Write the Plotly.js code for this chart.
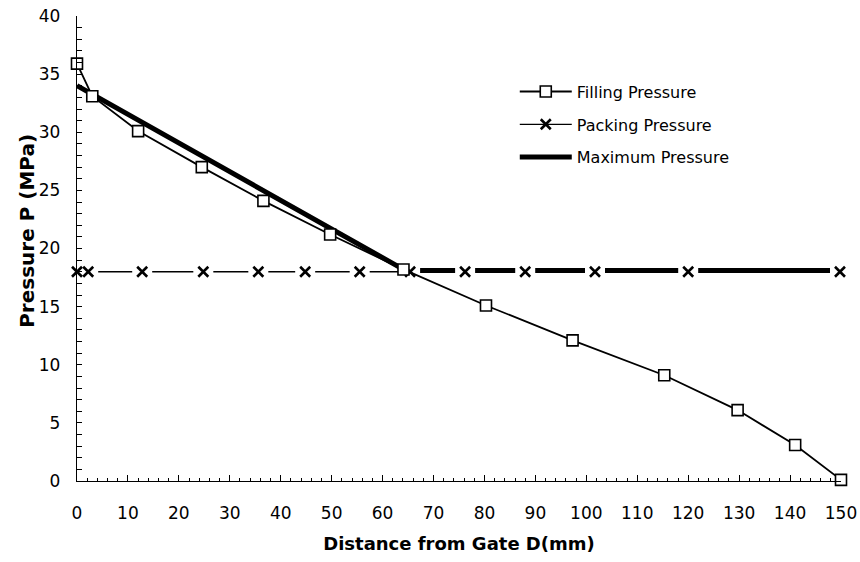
<!DOCTYPE html>
<html>
<head>
<meta charset="utf-8">
<script src="https://cdn.plot.ly/plotly-3.0.1.min.js"></script>
<style>html,body{margin:0;padding:0;background:#fff;}#chart{width:860px;height:562px;}</style>
</head>
<body>
<div id="chart"></div>
<script>
// Filling pressure (distance mm, pressure MPa)
var fillX = [0, 3, 12, 24.5, 36.6, 49.7, 64.1, 80.3, 97.3, 115.3, 129.7, 141, 150];
var fillY = [35.9, 33.1, 30.1, 27.0, 24.1, 21.2, 18.2, 15.1, 12.1, 9.1, 6.1, 3.1, 0.1];

// Packing pressure
var packX = [0, 2.2, 12.8, 24.8, 35.6, 44.8, 55.5, 65.4, 76.2, 88, 101.7, 120, 149.8];
var packY = [18, 18, 18, 18, 18, 18, 18, 18, 18, 18, 18, 18, 18];

// Maximum pressure
var maxX = [0, 64.5, 150];
var maxY = [34.0, 18.1, 18.1];

var seriesNames = ["Filling Pressure", "Packing Pressure", "Maximum Pressure"];
var xTitle = "Distance from Gate D(mm)";
var yTitle = "Pressure P (MPa)";

var traces = [
  {
    x: maxX, y: maxY, name: seriesNames[2], mode: "lines",
    line: {color: "#000", width: 5}, legendrank: 3, legendgroup: "c", cliponaxis: false
  },
  {
    x: packX, y: packY, name: seriesNames[1], mode: "lines+markers",
    line: {color: "#000", width: 1.3},
    marker: {symbol: "x-thin-open", size: 10, color: "#000", line: {color: "#000", width: 2.6}},
    legendrank: 2, legendgroup: "b", cliponaxis: false
  },
  {
    x: packX, y: packY, mode: "markers", showlegend: false, hoverinfo: "skip",
    marker: {symbol: "square", size: 20, color: "#fff", line: {width: 0}}, cliponaxis: false
  },
  {
    x: packX, y: packY, mode: "markers", showlegend: false, hoverinfo: "skip",
    marker: {symbol: "x-thin-open", size: 10, color: "#000", line: {color: "#000", width: 2.6}}, cliponaxis: false
  },
  {
    x: fillX, y: fillY, name: seriesNames[0], mode: "lines+markers",
    line: {color: "#000", width: 1.8},
    marker: {symbol: "square", size: 11, color: "#fff", line: {color: "#000", width: 1.6}},
    legendrank: 1, legendgroup: "a", cliponaxis: false
  }
];

var layout = {
  width: 860, height: 562,
  margin: {l: 77, r: 19, t: 16, b: 81},
  paper_bgcolor: "#fff", plot_bgcolor: "#fff",
  font: {family: "DejaVu Sans, Liberation Sans, sans-serif", color: "#000", size: 17},
  showlegend: true,
  legend: {
    x: 0.573, y: 0.874, xanchor: "left", yanchor: "top",
    bgcolor: "rgba(0,0,0,0)", font: {size: 16, color: "#000"},
    traceorder: "grouped", tracegroupgap: 9, itemwidth: 52
  },
  xaxis: {
    range: [0, 150], tick0: 0, dtick: 10, showgrid: false, zeroline: false,
    showline: true, linecolor: "#000", linewidth: 1.2,
    ticks: "inside", ticklen: 6, tickcolor: "#000", tickwidth: 1,
    minor: {dtick: 2, ticks: "inside", ticklen: 3, tickcolor: "#000", tickwidth: 1},
    ticklabelstandoff: 16,
    tickfont: {size: 17},
    title: {text: "<b>" + xTitle + "</b>", font: {size: 18}, standoff: 15}
  },
  yaxis: {
    range: [0, 40], tick0: 0, dtick: 5, showgrid: false, zeroline: false,
    showline: true, linecolor: "#000", linewidth: 1.2,
    ticks: "inside", ticklen: 5, tickcolor: "#000", tickwidth: 1,
    minor: {dtick: 1, ticks: "inside", ticklen: 5, tickcolor: "#000", tickwidth: 1},
    ticklabelstandoff: 12,
    tickfont: {size: 17}
  },
  annotations: [{
    text: "<b>" + yTitle + "</b>", xref: "paper", yref: "paper",
    x: -0.0654, y: 0.538, xanchor: "center", yanchor: "middle",
    textangle: -90, showarrow: false, font: {size: 20, color: "#000"}
  }]
};

Plotly.newPlot("chart", traces, layout, {staticPlot: true, displayModeBar: false});
</script>
</body>
</html>
